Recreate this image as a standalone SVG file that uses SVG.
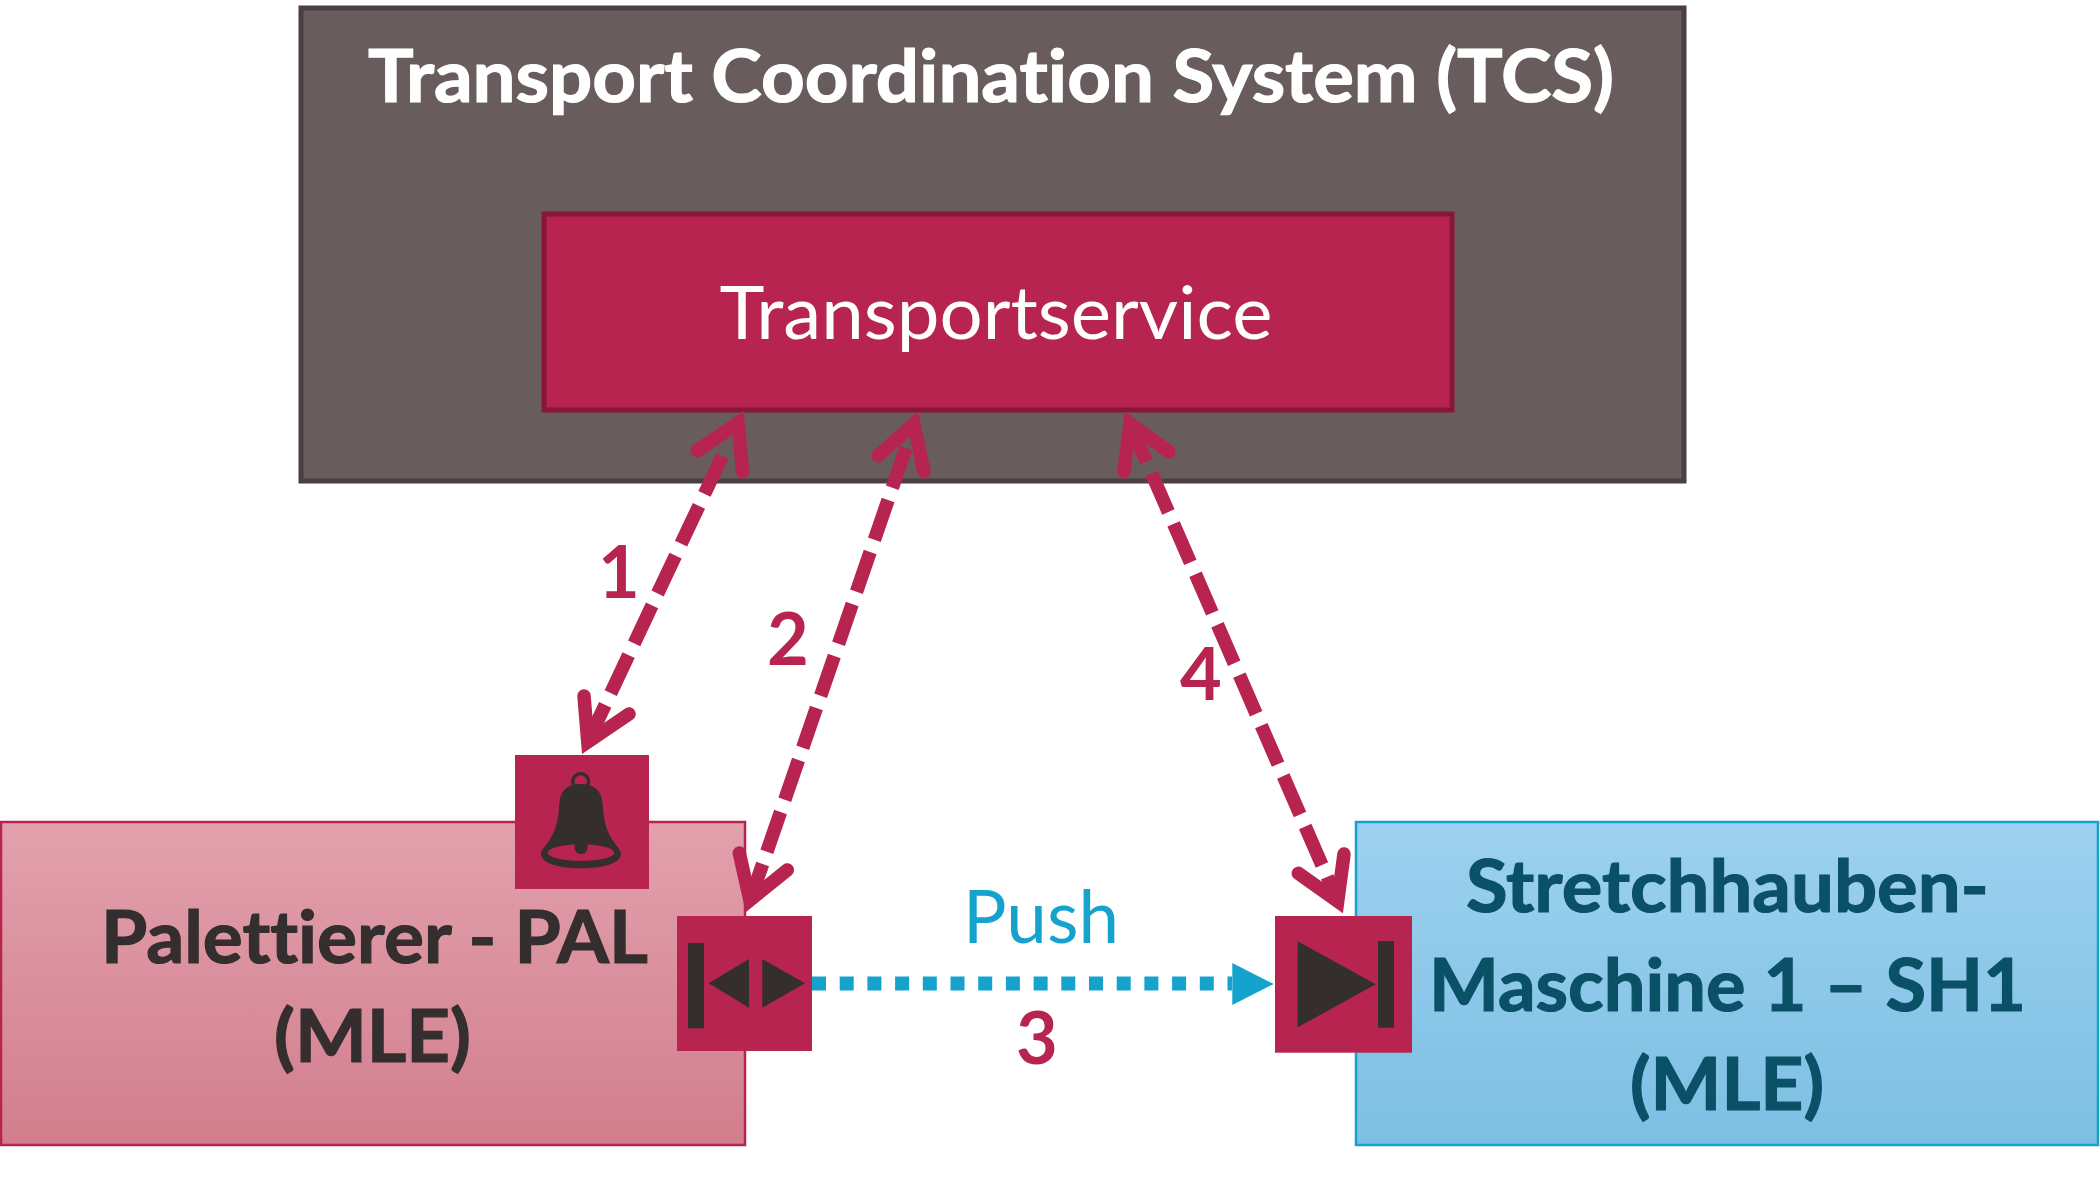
<svg xmlns="http://www.w3.org/2000/svg" width="2100" height="1182" viewBox="0 0 2100 1182">
<style>
text{font-family:"Lato","Carlito","Noto Sans",sans-serif;text-anchor:middle;font-variant-ligatures:none;font-size:73px}
.b{font-weight:700;stroke-width:1.2px}
.n{font-size:72px;font-weight:700;fill:#b72450}
.white{fill:#fff;stroke:#fff}
.dark{fill:#352e2e;stroke:#352e2e}
.teal{fill:#0a5066;stroke:#0a5066}
.box{fill:#b72450}
.ico{fill:#352e2e}
.shaft{fill:none;stroke:#b72450;stroke-width:13.5;stroke-dasharray:42 13}
.head{fill:none;stroke:#b72450;stroke-width:13.5;stroke-linecap:round;stroke-linejoin:miter;stroke-miterlimit:10}
</style>
<defs>
<linearGradient id="gp" x1="0" y1="0" x2="0" y2="1"><stop offset="0" stop-color="#e2a1ad"/><stop offset="1" stop-color="#d27e8d"/></linearGradient>
<linearGradient id="gb" x1="0" y1="0" x2="0" y2="1"><stop offset="0" stop-color="#9dd1ef"/><stop offset="1" stop-color="#7dbfe3"/></linearGradient>
</defs>
<rect width="2100" height="1182" fill="#fff"/>
<g id="tcs">
<rect x="301" y="8" width="1383" height="473" fill="#685c5c" stroke="#4c3f42" stroke-width="5"/>
<text class="b white" x="991" y="101.500" textLength="1246" lengthAdjust="spacingAndGlyphs">Transport Coordination System (TCS)</text>
</g>
<g id="transportservice">
<rect x="544" y="214" width="908" height="196" fill="#b72450" stroke="#871638" stroke-width="5"/>
<text x="996" y="339" fill="#fff" textLength="553" lengthAdjust="spacingAndGlyphs">Transportservice</text>
</g>
<g id="pal">
<rect x="1" y="822" width="744" height="323" fill="url(#gp)" stroke="#b72450" stroke-width="2.5"/>
<text class="b dark" x="374.500" y="963" textLength="547" lengthAdjust="spacingAndGlyphs">Palettierer - PAL</text>
<text class="b dark" x="372.500" y="1062" textLength="197" lengthAdjust="spacingAndGlyphs">(MLE)</text>
</g>
<g id="sh1">
<rect x="1356" y="822" width="742" height="323" fill="url(#gb)" stroke="#15a3ce" stroke-width="2.5"/>
<text class="b teal" x="1727.500" y="911.500" textLength="523" lengthAdjust="spacingAndGlyphs">Stretchhauben-</text>
<text class="b teal" x="1727.500" y="1010.500" textLength="597" lengthAdjust="spacingAndGlyphs">Maschine 1 – SH1</text>
<text class="b teal" x="1727" y="1110" textLength="194" lengthAdjust="spacingAndGlyphs">(MLE)</text>
</g>
<g id="connectors">
<line class="shaft" x1="722.4" y1="456" x2="590" y2="737"/>
<polyline class="head" points="697.4,450.7 738,423 742.6,471.7"/>
<polyline class="head" points="584,696 587.800,742 629,714"/>
<line class="shaft" x1="906" y1="448" x2="754" y2="889"/>
<polyline class="head" points="878,455.7 914,424 924,471.7"/>
<polyline class="head" points="739.3,853 749.900,900.100 787.3,870"/>
<line class="shaft" x1="1129.7" y1="423" x2="1335" y2="895"/>
<polyline class="head" points="1124,471.7 1130,423.700 1169,451.7"/>
<polyline class="head" points="1344,854 1337.700,901.300 1298.3,873.3"/>
<line x1="812" y1="983.5" x2="1232" y2="983.5" fill="none" stroke="#15a3ce" stroke-width="14" stroke-dasharray="14 13.7"/>
<polygon points="1232.3,963 1273.7,984 1232.3,1005" fill="#15a3ce"/>
</g>
<g id="bell-icon">
<rect class="box" x="515" y="755" width="134" height="134"/>
<g transform="translate(480 700) scale(.33333)">
<circle cx="302" cy="245" r="24" fill="none" stroke="#352e2e" stroke-width="10"/>
<path class="ico" d="M302 252C262 252 240 272 238 312C235 365 226 395 205 425C195 440 183 450 183 462C183 490 240 505 303 505C366 505 423 490 423 462C423 450 411 440 401 425C380 395 371 365 368 312C366 272 342 252 302 252Z"/>
<ellipse class="box" cx="303" cy="458" rx="100" ry="25"/>
<rect class="ico" x="284" y="400" width="38" height="62" rx="17"/>
</g>
</g>
<g id="start-icon">
<rect class="box" x="677" y="916" width="135" height="135"/>
<rect class="ico" x="688" y="943" width="16" height="85.3"/>
<polygon class="ico" points="749,959 708.7,983.3 749,1007.7"/>
<polygon class="ico" points="762.3,959 805,983.3 762.3,1007.7"/>
</g>
<g id="end-icon">
<rect class="box" x="1275" y="916" width="137" height="136.700"/>
<polygon class="ico" points="1297.700,941.300 1375.700,984.300 1297.700,1027.300"/>
<rect class="ico" x="1378" y="941" width="16" height="86.700"/>
</g>
<g id="labels">
<text class="n" x="619" y="598">1</text>
<text class="n" x="788" y="665">2</text>
<text class="n" x="1037" y="1064">3</text>
<text class="n" x="1201" y="700">4</text>
<text x="1041" y="943" fill="#15a3ce" textLength="156" lengthAdjust="spacingAndGlyphs">Push</text>
</g>
</svg>
